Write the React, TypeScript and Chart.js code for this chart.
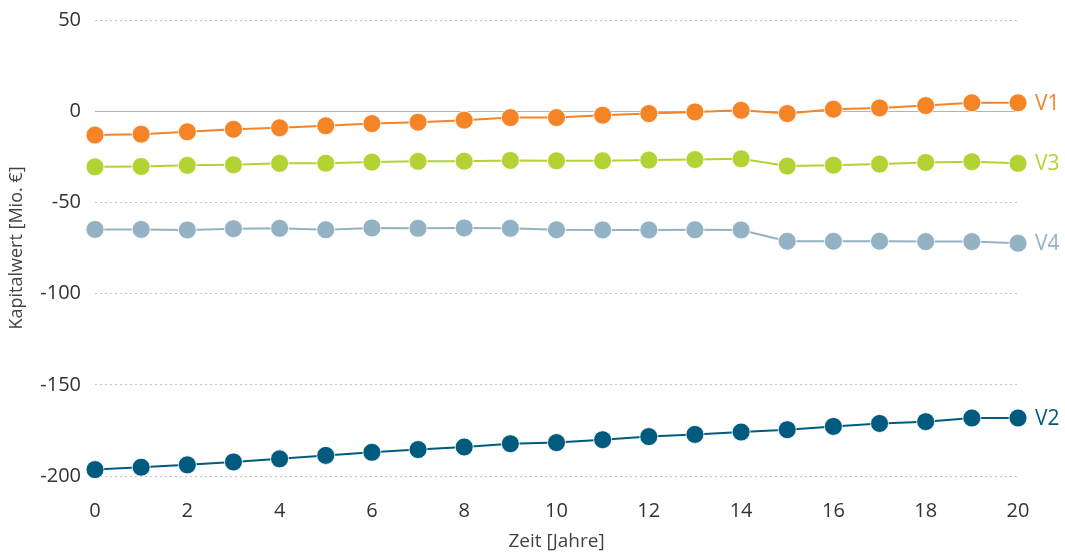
import React, { useEffect, useRef } from "react";
import { Chart, registerables } from "chart.js";

Chart.register(...registerables);

const years = [0, 1, 2, 3, 4, 5, 6, 7, 8, 9, 10, 11, 12, 13, 14, 15, 16, 17, 18, 19, 20];
const seriesNames = ["V1", "V3", "V4", "V2"];
const v1 = [-13.1, -12.6, -11.3, -9.9, -9.1, -8.0, -6.8, -6.0, -4.9, -3.5, -3.5, -2.2, -1.3, -0.4, 0.5, -1.3, 1.1, 1.8, 3.1, 4.6, 4.6];
const v3 = [-30.5, -30.3, -29.7, -29.4, -28.6, -28.5, -27.9, -27.5, -27.4, -27.0, -27.2, -27.2, -26.8, -26.5, -26.1, -30.1, -29.6, -29.0, -28.1, -27.7, -28.6];
const v4 = [-64.8, -64.8, -65.1, -64.4, -64.2, -65.0, -64.0, -64.2, -64.0, -64.2, -65.0, -65.1, -65.1, -65.0, -65.1, -71.3, -71.3, -71.3, -71.5, -71.5, -72.4];
const v2 = [-196.5, -195.2, -193.9, -192.3, -190.6, -188.7, -187.0, -185.5, -184.1, -182.3, -181.7, -180.1, -178.4, -177.2, -175.9, -174.6, -172.8, -171.2, -170.2, -168.2, -168.2];
const colors = ["#F58426", "#B3D334", "#93B2C3", "#005B7F"];
const yAxisTitle = "Kapitalwert [Mio. €]";
const xAxisTitle = "Zeit [Jahre]";

const FONT = "'Open Sans', 'Noto Sans', sans-serif";

const endLabels = {
  id: "endLabels",
  afterDatasetsDraw(chart: any) {
    const ctx = chart.ctx;
    ctx.save();
    ctx.font = `21px ${FONT}`;
    ctx.textBaseline = "middle";
    ctx.textAlign = "left";
    chart.data.datasets.forEach((ds: any, i: number) => {
      const meta = chart.getDatasetMeta(i);
      const pt = meta.data[meta.data.length - 1];
      ctx.fillStyle = ds.borderColor;
      ctx.fillText(ds.label, pt.x + 17, pt.y + 1);
    });
    ctx.restore();
  },
};

export default function App() {
  const ref = useRef<HTMLCanvasElement | null>(null);
  useEffect(() => {
    const all = [v1, v3, v4, v2];
    const chart = new Chart(ref.current as HTMLCanvasElement, {
      type: "line",
      data: {
        datasets: all.map((vals, i) => ({
          label: seriesNames[i],
          data: years.map((x, j) => ({ x, y: vals[j] })),
          borderColor: colors[i],
          backgroundColor: colors[i],
          pointBackgroundColor: colors[i],
          pointBorderColor: "rgba(255,255,255,0.8)",
          pointBorderWidth: 1,
          pointRadius: 9,
          borderWidth: 2,
          tension: 0,
          clip: false as any,
        })),
      },
      options: {
        animation: false,
        responsive: true,
        maintainAspectRatio: false,
        layout: { padding: { top: 20, right: 47, left: 0, bottom: 0 } },
        plugins: { legend: { display: false }, tooltip: { enabled: false } },
        scales: {
          x: {
            type: "linear",
            min: 0,
            max: 20,
            grid: { display: false, drawTicks: false },
            border: { display: false },
            ticks: { stepSize: 2, padding: 23, color: "#333", font: { family: FONT, size: 20 } },
            title: { display: true, text: xAxisTitle, color: "#444", font: { family: FONT, size: 19 }, padding: { top: 0, bottom: 2 } },
            afterFit: (s: any) => { s.height = 79; s.paddingLeft = 0; s.paddingRight = 0; },
          },
          y: {
            min: -200,
            max: 50,
            grid: {
              drawTicks: false,
              color: (c: any) => (c.tick && c.tick.value === 0 ? "#b4b4b4" : "#c4c4c4"),
              lineWidth: 1,
            },
            border: { display: false, dash: (c: any) => (c.tick && c.tick.value === 0 ? [] : [2, 3]) } as any,
            ticks: { stepSize: 50, padding: 14, color: "#333", font: { family: FONT, size: 20 } },
            title: { display: true, text: yAxisTitle, color: "#444", font: { family: FONT, size: 18 }, padding: { top: 6, bottom: 0 } },
            afterFit: (s: any) => { s.width = 95; s.paddingTop = 0; s.paddingBottom = 0; },
          },
        },
      },
      plugins: [endLabels],
    });
    return () => chart.destroy();
  }, []);
  return (
    <div style={{ position: "fixed", left: 0, top: 0, width: 1065, height: 555 }}>
      <canvas ref={ref} />
    </div>
  );
}
